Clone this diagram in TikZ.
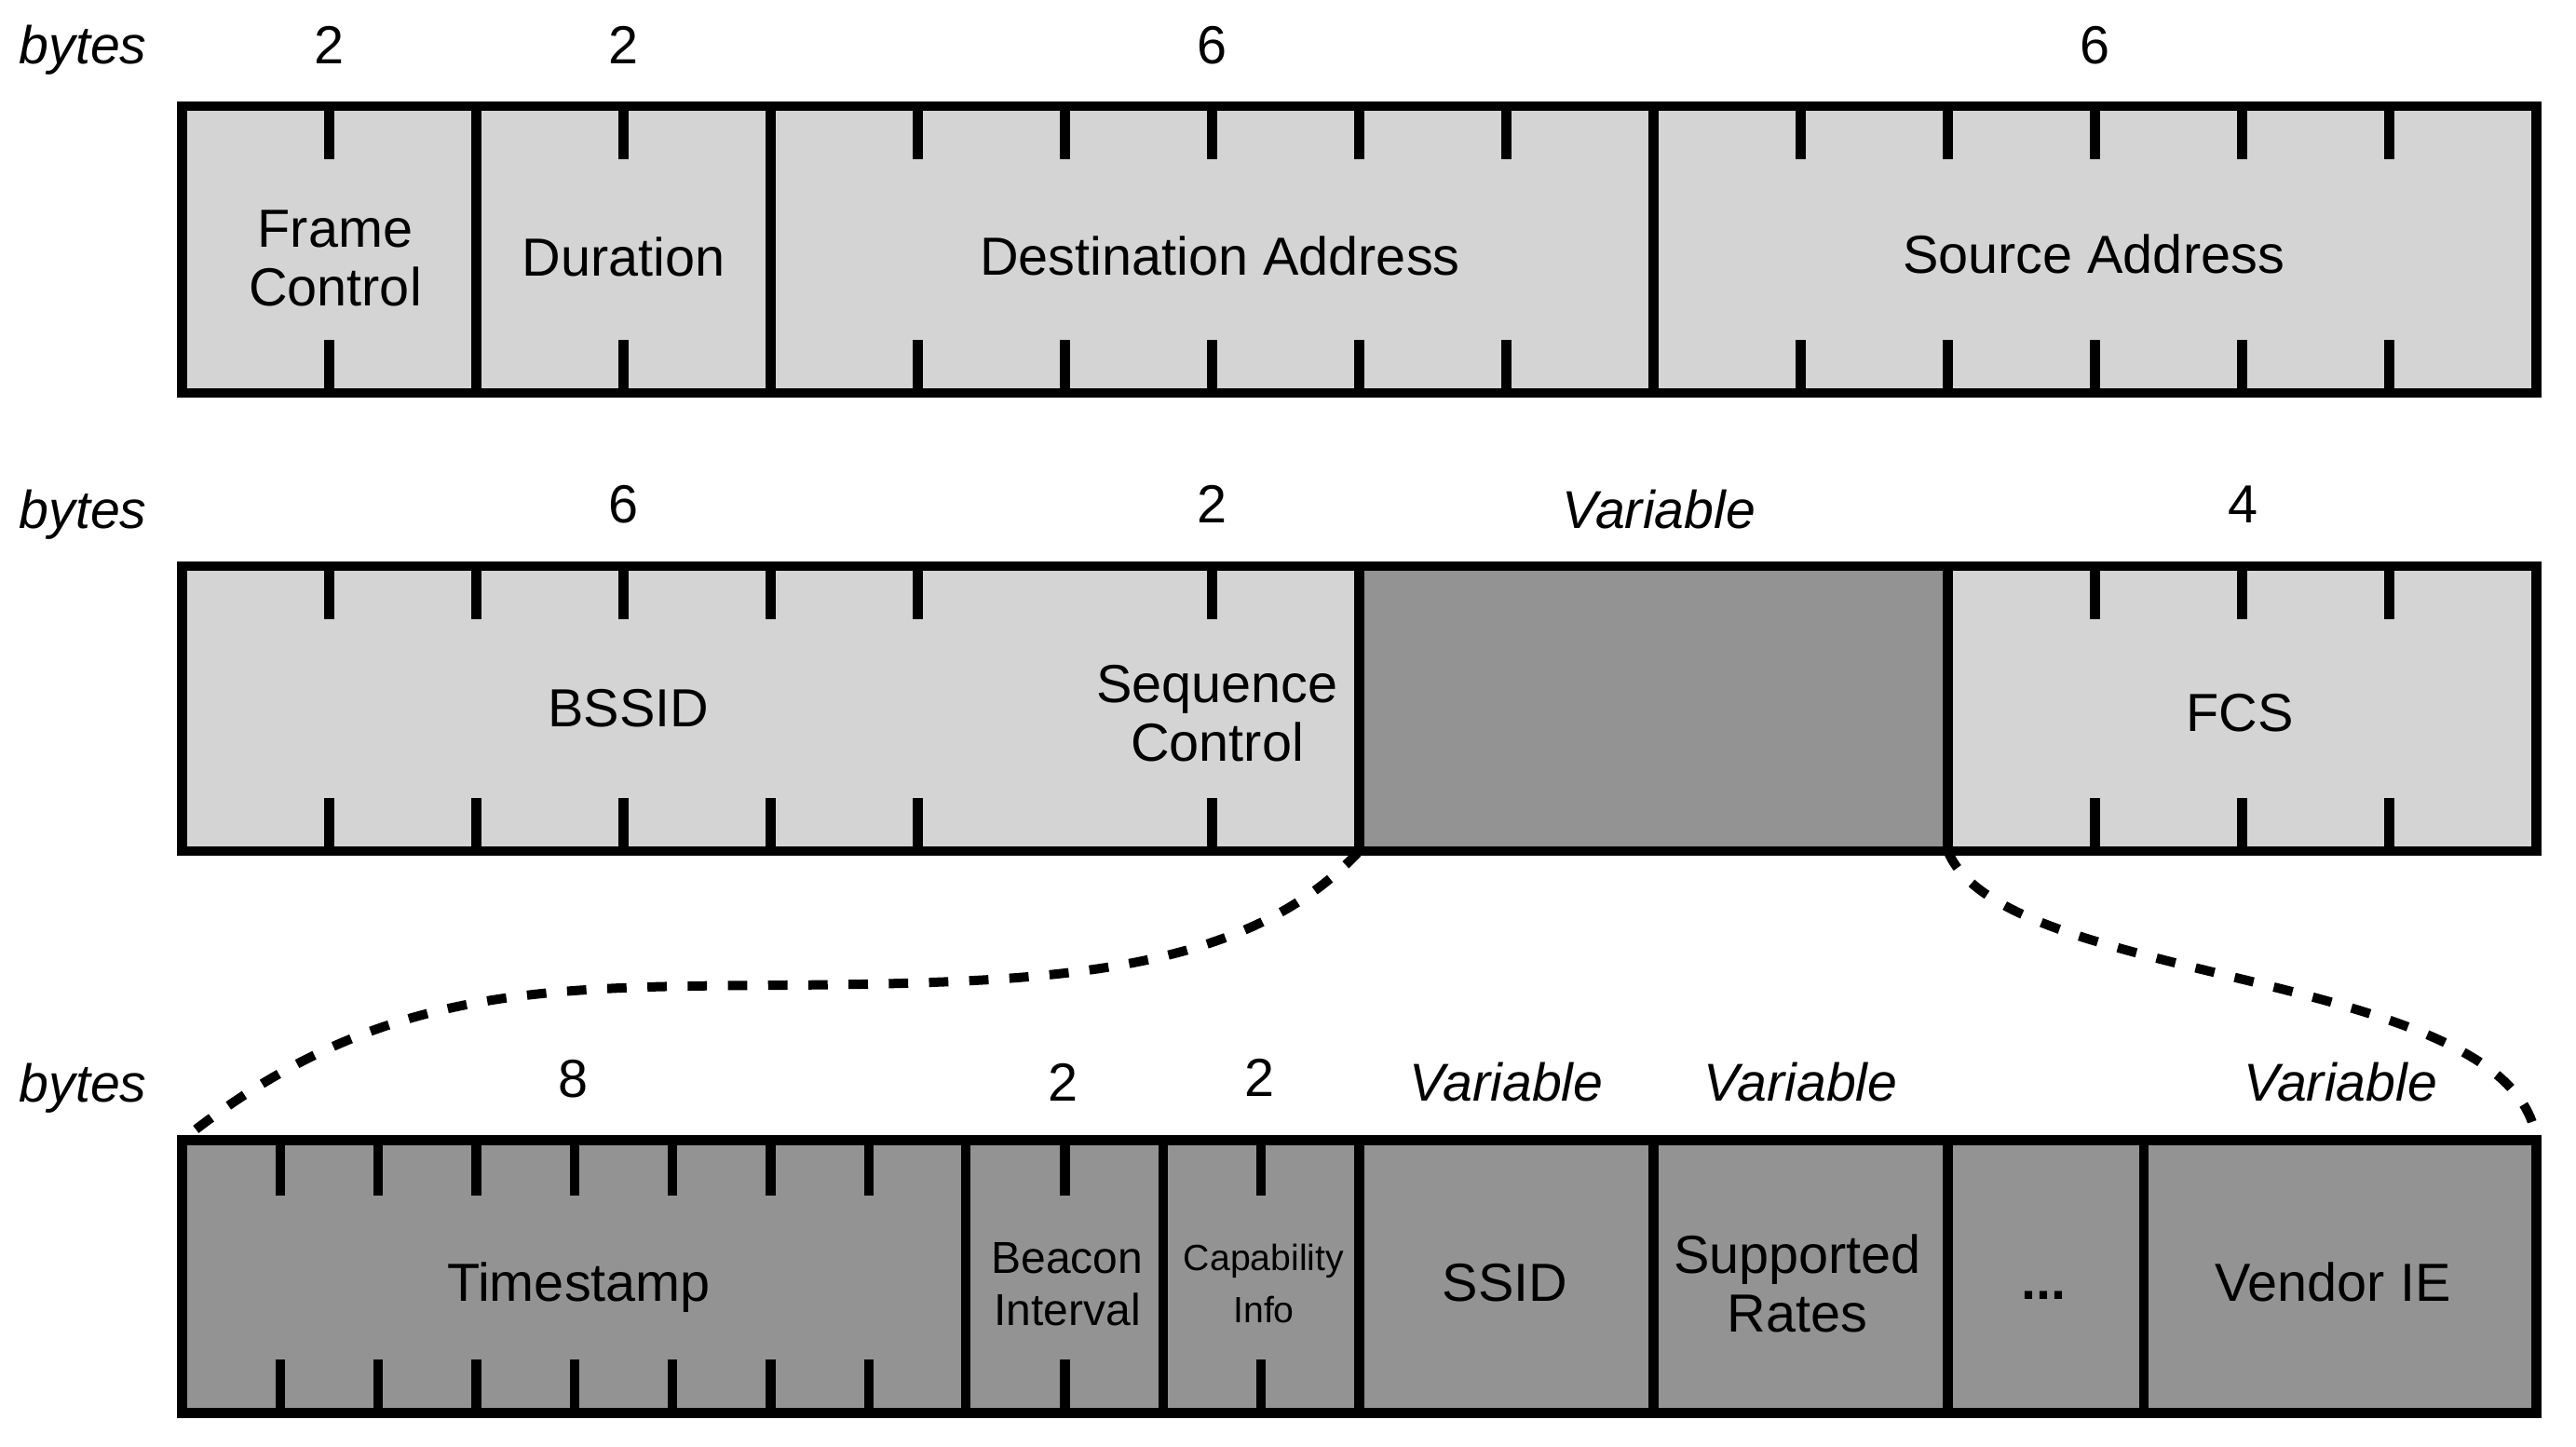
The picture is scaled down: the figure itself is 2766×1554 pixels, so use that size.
\documentclass[tikz,border=0pt]{standalone}
\usepackage{fontspec}
\setmainfont{Liberation Sans}
\usetikzlibrary{fit}
\definecolor{lightg}{HTML}{D4D4D4}
\definecolor{darkg}{HTML}{939393}
\begin{document}
\begin{tikzpicture}[x=0.25pt,y=-0.25pt,
  fieldbox/.style={rectangle,draw=black,line width=2.6pt,inner sep=0pt,outer sep=0pt},
  lightbox/.style={fieldbox,fill=lightg},
  darkbox/.style={fieldbox,fill=darkg},
  tickmark/.style={line width=2.6pt},
  lbl/.style={font=\fontsize{14.4}{15.75}\selectfont,anchor=base,inner sep=0pt,align=center},
  ilbl/.style={lbl,font=\fontsize{14.3}{15.75}\selectfont\itshape},
  smalllbl/.style={lbl,font=\fontsize{12}{14}\selectfont},
  tinylbl/.style={lbl,font=\fontsize{9.8}{14}\selectfont},
  conn/.style={line width=2.5pt,dash pattern=on 5.2pt off 5.6pt}]
\useasboundingbox (0,0) rectangle (2766,1554);

% ---------- row 1 ----------
\node[lightbox,fit={(195.5,114)(511.5,422)}] (fc) {};
\node[lightbox,fit={(511.5,114)(827.5,422)}] (dur) {};
\node[lightbox,fit={(827.5,114)(1775.5,422)}] (da) {};
\node[lightbox,fit={(1775.5,114)(2723.5,422)}] (sa) {};
\foreach \x in {353.5,669.5,985.5,1143.5,1301.5,1459.5,1617.5,1933.5,2091.5,2249.5,2407.5,2565.5}
  {\draw[tickmark] (\x,114) -- (\x,171); \draw[tickmark] (\x,365) -- (\x,422);}

% ---------- row 2 ----------
\node[lightbox,fit={(195.5,608)(1459.5,914)}] (bss) {};
\node[darkbox,fit={(1459.5,608)(2091.5,914)}] (var) {};
\node[lightbox,fit={(2091.5,608)(2723.5,914)}] (fcs) {};
\foreach \x in {353.5,511.5,669.5,827.5,985.5,1301.5,2249.5,2407.5,2565.5}
  {\draw[tickmark] (\x,608) -- (\x,665); \draw[tickmark] (\x,857) -- (\x,914);}

% ---------- row 3 ----------
\node[darkbox,fit={(195.5,1224.5)(1037.2,1517.5)}] (ts) {};
\node[darkbox,fit={(1037.2,1224.5)(1248.8,1517.5)}] (bi) {};
\node[darkbox,fit={(1248.8,1224.5)(1459.5,1517.5)}] (ci) {};
\node[darkbox,fit={(1459.5,1224.5)(1775.5,1517.5)}] (ssid) {};
\node[darkbox,fit={(1775.5,1224.5)(2091.5,1517.5)}] (sr) {};
\node[darkbox,fit={(2091.5,1224.5)(2302.2,1517.5)}] (dots) {};
\node[darkbox,fit={(2302.2,1224.5)(2723.5,1517.5)}] (vie) {};
\foreach \x in {300.8,406.2,511.5,616.8,722.2,827.5,932.8,1143.5,1354.2}
  {\draw[tickmark] (\x,1224.5) -- (\x,1284); \draw[tickmark] (\x,1460) -- (\x,1517.5);}

% ---------- connectors ----------
\coordinate (mid) at (1000,1055);
\draw[conn] (var.south west) .. controls (1359.5,1022) and (1200,1048) .. (mid)
  .. controls (650,1067.6) and (445.5,1024.5) .. (ts.north west);
\draw[conn] (var.south east) .. controls (2150,1060) and (2700,1040) .. (vie.north east);

% ---------- labels row 1 ----------
\node[ilbl,anchor=base west] (by1) at (20,68) {bytes};
\node[lbl] (n1a) at (353.5,68) {2};
\node[lbl] (n1b) at (669.5,68) {2};
\node[lbl] (n1c) at (1301.5,68) {6};
\node[lbl] (n1d) at (2249.5,68) {6};
\node[lbl] (tfc) at (360,328) {Frame\\Control};
\node[lbl] (tdur) at (669.5,296) {Duration};
\node[lbl] (tda) at (1310,295) {Destination Address};
\node[lbl] (tsa) at (2248,293) {Source Address};

% ---------- labels row 2 ----------
\node[ilbl,anchor=base west] (by2) at (20,567) {bytes};
\node[lbl] (n2a) at (669.5,561) {6};
\node[lbl] (n2b) at (1301.5,561) {2};
\node[ilbl] (n2c) at (1781,567) {Variable};
\node[lbl] (n2d) at (2408,561) {4};
\node[lbl] (tbss) at (675,780) {BSSID};
\node[lbl] (tseq) at (1307,817) {Sequence\\Control};
\node[lbl] (tfcs) at (2405,785) {FCS};

% ---------- labels row 3 ----------
\node[ilbl,anchor=base west] (by3) at (20,1183) {bytes};
\node[lbl] (n3a) at (616,1178) {8};
\node[lbl] (n3b) at (1142,1182) {2};
\node[lbl] (n3c) at (1353,1177) {2};
\node[ilbl] (n3d) at (1617.5,1182) {Variable};
\node[ilbl] (n3e) at (1933.5,1182) {Variable};
\node[ilbl] (n3f) at (2513,1182) {Variable};
\node[lbl] (tts) at (621.5,1397) {Timestamp};
\node[smalllbl] (tbi) at (1146,1423) {Beacon\\Interval};
\node[tinylbl] (tci) at (1357,1420) {Capability\\Info};
\node[lbl] (tssid) at (1616,1397) {SSID};
\node[lbl] (tsr) at (1930,1430) {Supported\\Rates};
\node[lbl,font=\fontsize{14.4}{15.75}\selectfont\bfseries] (tdots) at (2194,1395) {...};
\node[lbl] (tvie) at (2505,1397) {Vendor IE};
\end{tikzpicture}
\end{document}
